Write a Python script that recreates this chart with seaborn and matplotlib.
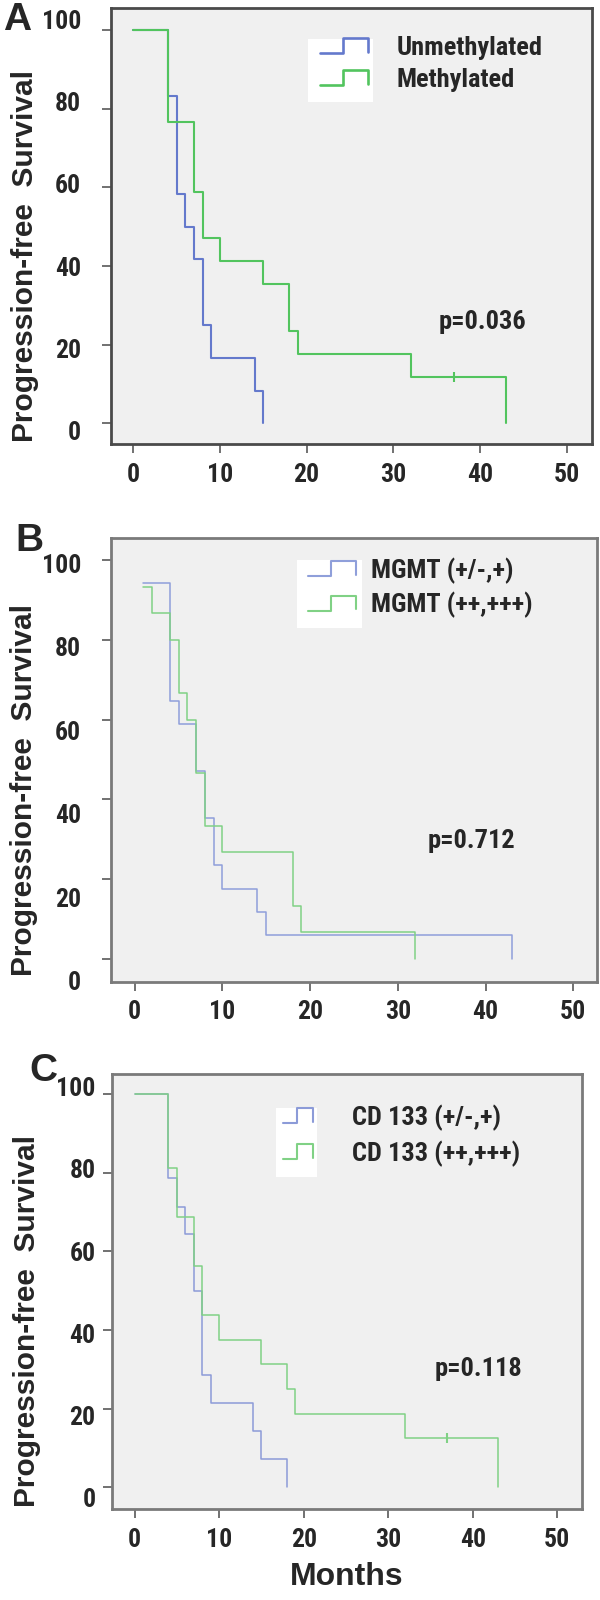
import numpy as np
import pandas as pd
import matplotlib
matplotlib.use("Agg")
import matplotlib.pyplot as plt
import seaborn as sns
from matplotlib import font_manager
from matplotlib.lines import Line2D
from matplotlib.patches import Rectangle
from matplotlib.legend_handler import HandlerBase
from matplotlib.transforms import ScaledTranslation

# ---- data (months, % progression-free) ----
# Panel A: MGMT promoter methylation
a_unmeth_t = [0, 4, 5, 6, 7, 8, 9, 14, 15]
a_unmeth_s = [100, 83.3, 58.3, 50.0, 41.7, 25.0, 16.7, 8.3, 0]
a_meth_t = [0, 4, 7, 8, 10, 15, 18, 19, 32, 43]
a_meth_s = [100, 76.5, 58.8, 47.1, 41.2, 35.3, 23.5, 17.6, 11.8, 0]
a_meth_cens_t = [37]
a_meth_cens_s = [11.8]

# Panel B: MGMT protein expression
b_low_t = [1, 4, 5, 7, 8, 9, 10, 14, 15, 43]
b_low_s = [94.1, 64.7, 58.8, 47.1, 35.3, 23.5, 17.6, 11.8, 5.9, 0]
b_high_t = [1, 2, 4, 5, 6, 7, 8, 10, 18, 19, 32]
b_high_s = [93.3, 86.7, 80.0, 66.7, 60.0, 46.7, 33.3, 26.7, 13.3, 6.7, 0]

# Panel C: CD133 expression
c_low_t = [0, 4, 5, 6, 7, 8, 9, 14, 15, 18]
c_low_s = [100, 78.6, 71.4, 64.3, 50.0, 28.6, 21.4, 14.3, 7.1, 0]
c_high_t = [0, 4, 5, 7, 8, 10, 15, 18, 19, 32, 43]
c_high_s = [100, 81.25, 68.75, 56.25, 43.75, 37.5, 31.25, 25.0, 18.75, 12.5, 0]
c_high_cens_t = [37]
c_high_cens_s = [12.5]

panel_letters = ["A", "B", "C"]
legend_labels = [["Unmethylated", "Methylated"],
                 ["MGMT (+/-,+)", "MGMT (++,+++)"],
                 ["CD 133 (+/-,+)", "CD 133 (++,+++)"]]
p_values = ["p=0.036", "p=0.712", "p=0.118"]
x_ticks = [0, 10, 20, 30, 40, 50]
y_ticks = [0, 20, 40, 60, 80, 100]


def pick_font(names):
    for name in names:
        try:
            font_manager.findfont(name, fallback_to_default=False)
            return name
        except ValueError:
            pass
    return "DejaVu Sans"


sns.set_theme(style="ticks")
bold_font = pick_font(["Liberation Sans", "Arial", "DejaVu Sans"])
narrow_font = pick_font(["Liberation Sans Narrow", "Roboto Condensed", "Liberation Sans"])
plt.rcParams["font.family"] = [bold_font, "DejaVu Sans"]
plt.rcParams["font.weight"] = "bold"
NARROW = [narrow_font, "DejaVu Sans"]
FS = 18.5


class StepHandler(HandlerBase):
    # legend icon drawn like the SPSS step glyph
    def create_artists(self, legend, orig_handle, xdescent, ydescent,
                       width, height, fontsize, trans):
        xs = np.array([0, 0.47, 0.47, 1, 1]) * width - xdescent
        ys = np.array([0, 0, 1, 1, 0.1]) * height - ydescent
        line = Line2D(xs, ys, color=orig_handle.get_color(),
                      lw=orig_handle.get_linewidth(), transform=trans)
        return [line]


fig = plt.figure(figsize=(6, 16), dpi=100)

# axes boxes in pixels: left, top, right, bottom
boxes = [(111, 8.3, 591.7, 444.3), (111, 538.3, 597, 981.7), (111.7, 1074, 581.7, 1509.3)]
xlims = [(-2.57, 52.89), (-2.70, 52.71), (-2.72, 52.90)]
ylims = [(-5.34, 105.5), (-5.69, 105.4), (-5.59, 105.1)]
frame_cols = ["#4a4a4a", "#7a7a7a", "#7a7a7a"]
blues = ["#6479cc", "#8f9fda", "#8c9bd8"]
greens = ["#52c45e", "#80d185", "#80d185"]
lws = [1.5, 1.1, 1.1]
ylab_dx = [-30, -30, -16]
ylab_off50 = [1, 15, 4]
legend_box = [(0.410, 0.785, 0.135, 0.145), (0.382, 0.797, 0.134, 0.154), (0.349, 0.763, 0.087, 0.159)]
legend_anchor = [(0.435, 0.936), (0.405, 0.956), (0.3645, 0.930)]
legend_hlen = [1.82, 1.84, 1.14]
legend_tpad = [1.09, 0.57, 1.47]
legend_lspace = [0.3, 0.3, 0.37]
p_pos = [(40.3, 25.8), (38.4, 29.6), (40.7, 30.1)]
letter_pos = [(16.7, 20), (29, 541), (43, 1071)]

curves = [
    [(a_unmeth_t, a_unmeth_s), (a_meth_t, a_meth_s)],
    [(b_low_t, b_low_s), (b_high_t, b_high_s)],
    [(c_low_t, c_low_s), (c_high_t, c_high_s)],
]
censors = [(a_meth_cens_t, a_meth_cens_s), None, (c_high_cens_t, c_high_cens_s)]

for i in range(3):
    l, t, r, b = boxes[i]
    ax = fig.add_axes([l / 600, 1 - b / 1600, (r - l) / 600, (b - t) / 1600])
    ax.set_facecolor("#f0f0f0")
    cols = [blues[i], greens[i]]

    for (tt, ss), col in zip(curves[i], cols):
        df = pd.DataFrame({"Months": tt, "Survival": ss})
        sns.lineplot(data=df, x="Months", y="Survival", ax=ax, color=col,
                     lw=lws[i], drawstyle="steps-post", estimator=None,
                     sort=False, legend=False)
    if censors[i] is not None:
        cdf = pd.DataFrame({"Months": censors[i][0], "Survival": censors[i][1]})
        sns.scatterplot(data=cdf, x="Months", y="Survival", ax=ax, marker="|",
                        s=50, color=greens[i], linewidth=1.5, legend=False)

    ax.set_xlim(*xlims[i])
    ax.set_ylim(*ylims[i])
    ax.set_xticks(x_ticks)
    ax.set_yticks(y_ticks)
    ax.set_yticklabels([])
    ax.tick_params(axis="both", length=6.5, width=1.3, color="#666666")
    ax.tick_params(axis="x", labelsize=FS, pad=7)
    for lab in ax.get_xticklabels():
        lab.set_family(NARROW)
        lab.set_weight("bold")
    for s in ax.spines.values():
        s.set_color(frame_cols[i])
        s.set_linewidth(2)

    # SPSS-style y tick labels, slightly offset from their ticks
    for v in y_ticks:
        dy = -(ylab_off50[i] + (50 - v) * 0.18)
        tr = ax.get_yaxis_transform() + ScaledTranslation(ylab_dx[i] / 100, dy / 100, fig.dpi_scale_trans)
        ax.text(0, v, str(v), transform=tr, ha="right", va="center", fontsize=FS,
                family=NARROW, weight="bold")

    ax.set_xlabel("")
    ax.set_ylabel("Progression-free  Survival", fontsize=21.5, weight="bold")
    ax.yaxis.set_label_coords(-0.15, 0.432)
    if i == 2:
        ax.set_xlabel("Months", fontsize=23, weight="bold", labelpad=7)

    # legend: white box behind the step icons, text on the grey panel
    bx, by, bw, bh = legend_box[i]
    ax.add_patch(Rectangle((bx, by), bw, bh, transform=ax.transAxes,
                           facecolor="white", edgecolor="none", zorder=1))
    handles = [Line2D([], [], color=c, lw=lws[i] + 0.4) for c in cols]
    leg = ax.legend(handles, legend_labels[i], handler_map={Line2D: StepHandler()},
                    loc="upper left", bbox_to_anchor=legend_anchor[i], frameon=False,
                    borderpad=0, borderaxespad=0, handlelength=legend_hlen[i],
                    handleheight=0.5, handletextpad=legend_tpad[i],
                    labelspacing=legend_lspace[i],
                    prop={"family": NARROW, "weight": "bold", "size": 19})
    leg.set_zorder(5)

    ax.text(p_pos[i][0], p_pos[i][1], p_values[i], ha="center", va="center",
            fontsize=19, family=NARROW, weight="bold")

    fig.text(letter_pos[i][0] / 600, 1 - letter_pos[i][1] / 1600, panel_letters[i],
             ha="center", va="center", fontsize=28, weight="bold")

fig.savefig("out.png", dpi=100, facecolor="white")
